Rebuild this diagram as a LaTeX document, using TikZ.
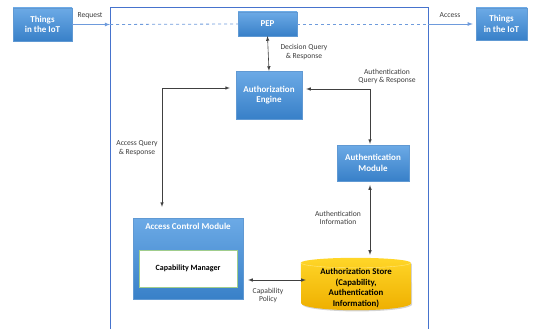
\documentclass[tikz,border=0pt]{standalone}
\usepackage{fontspec}
\setmainfont{Carlito}
\usepackage{xcolor}
\usetikzlibrary{shadows}
\definecolor{boxtop}{RGB}{108,170,230}
\definecolor{boxbot}{RGB}{56,128,200}
\definecolor{framecol}{RGB}{70,115,205}
\definecolor{linkcol}{RGB}{110,155,220}
\definecolor{storetop}{RGB}{255,214,40}
\definecolor{storebot}{RGB}{238,175,0}
\definecolor{capborder}{RGB}{160,205,140}
\definecolor{lblcol}{RGB}{60,60,60}

\tikzset{
  bluebox/.style={rectangle, top color=boxtop, bottom color=boxbot, draw=boxbot!80!white, line width=0.3pt,
    text=white, font=\fontsize{9}{10.5}\selectfont\bfseries, align=center,
    drop shadow={shadow xshift=1pt, shadow yshift=-1.2pt, opacity=0.35}},
  lbl/.style={font=\fontsize{7.6}{8.4}\selectfont, text=lblcol, align=center},
  link/.style={line width=0.6pt, color=black!75},
}

\begin{document}
\begin{tikzpicture}[x=1pt, y=-1pt, >=latex]
\useasboundingbox (0,0) rectangle (537,329);
% frame
\coordinate (ftl) at (110,7);
\coordinate (ftr) at (428,7);
\draw[framecol, line width=0.9pt] (110,329) -- (ftl) -- (ftr) -- (428,329);
% boxes
\node[bluebox, minimum width=59pt, minimum height=33pt] (thl) at (42.5,24.5) {Things\\in the IoT};
\node[bluebox, minimum width=51pt, minimum height=32pt] (thr) at (501.5,24) {Things\\in the IoT};
\node[bluebox, minimum width=59pt, minimum height=24pt] (pep) at (267.5,24) {PEP};
\node[bluebox, minimum width=66pt, minimum height=48pt] (ae) at (269,95) {Authorization\\Engine};
\node[bluebox, minimum width=72pt, minimum height=36pt] (am) at (373,163) {Authentication\\Module};
\node[bluebox, minimum width=110pt, minimum height=81pt] (acm) at (188,258.5) {};
\node[anchor=north, text=white, font=\fontsize{9}{10.5}\selectfont\bfseries] (acmtitle) at ([yshift=-2pt]acm.north) {Access Control Module};
\node[draw=capborder, fill=white, line width=0.6pt, minimum width=98pt, minimum height=37pt,
  font=\fontsize{8}{9}\selectfont\bfseries] (cm) at (188,268.5) {Capability Manager};
% store
\node[minimum width=110pt, minimum height=52pt, inner sep=0pt] (store) at (356,284) {};
\path[top color=storetop, bottom color=storebot,
  drop shadow={shadow xshift=1pt, shadow yshift=-1.2pt, opacity=0.35}]
  ([yshift=-5pt]store.north west) arc[start angle=180, end angle=0, x radius=55pt, y radius=5pt]
  -- ([yshift=7pt]store.south east) arc[start angle=0, end angle=-180, x radius=55pt, y radius=7pt] -- cycle;
\draw[storetop!60!white, line width=0.4pt] ([yshift=-5pt]store.north west) arc[start angle=180, end angle=360, x radius=55pt, y radius=5pt];
\node[align=center, font=\fontsize{8.8}{10.4}\selectfont\bfseries] (storetext) at (356,288) {Authorization Store\\(Capability,\\Authentication\\Information)};
% request / access
\draw[linkcol, line width=0.8pt, ->] (thl.east) -- (thl.east -| ftl);
\draw[linkcol, line width=0.8pt, dashed] (thl.east -| ftl) -- (pep.west);
\draw[linkcol, line width=0.8pt, dashed] (pep.east) -- (pep.east -| ftr);
\draw[linkcol, line width=0.8pt, ->, shorten >=3pt] (pep.east -| ftr) -- (thr.west);
\node[lbl] (req) at (90,16) {Request};
\node[lbl] (acc) at (450,15) {Access};
% connectors
\draw[link, <->] (pep.south) -- (ae.north);
\node[lbl] (dq) at (304,52) {Decision Query\\\& Response};
\draw[link, <->] ([xshift=-6pt, yshift=7pt]ae.west) -| ([xshift=-26pt, yshift=11pt]acm.north);
\node[lbl] (aq) at (137,148) {Access Query\\\& Response};
\draw[link, <->] ([xshift=-3pt, yshift=1pt]am.north) |- ([xshift=4pt, yshift=6pt]ae.east);
\node[lbl] (authq) at (387,76.5) {Authentication\\Query \& Response};
\coordinate (amlow) at ([xshift=-3pt, yshift=-4pt]am.south);
\draw[link, <->] (amlow) -- ([yshift=3pt]amlow |- store.north);
\node[lbl] (authi) at (338,218) {Authentication\\Information};
\draw[link, <->] ([xshift=5pt, yshift=-21.5pt]acm.east) -- ([xshift=5pt, yshift=-21.5pt]acm.east -| store.west);
\node[lbl] (cp) at (268,295.5) {Capability\\Policy};
\end{tikzpicture}
\end{document}
